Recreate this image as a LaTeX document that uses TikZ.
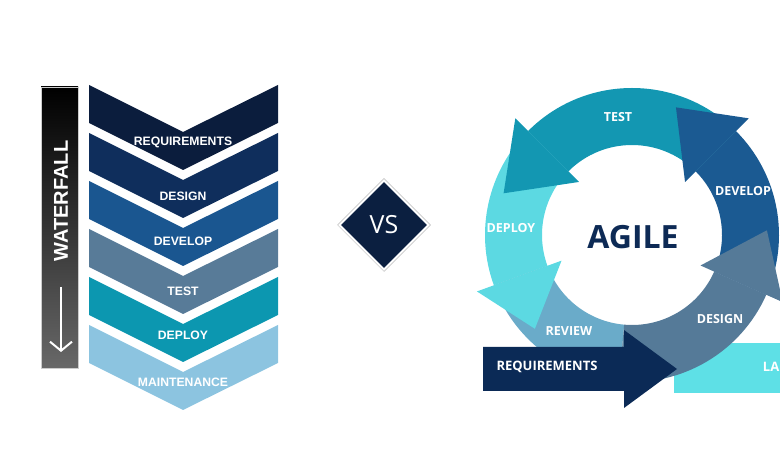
\documentclass[tikz,border=0pt]{standalone}
\usepackage{fontspec}
\setmainfont{Liberation Sans}
\newfontfamily\agilefont{Open Sans}
\usetikzlibrary{shapes.geometric,arrows.meta}
\definecolor{stepone}{HTML}{0B1D3D}
\definecolor{steptwo}{HTML}{0F2E5C}
\definecolor{stepthree}{HTML}{1A5690}
\definecolor{stepfour}{HTML}{587B98}
\definecolor{stepfive}{HTML}{0C97B0}
\definecolor{stepsix}{HTML}{8CC4E0}
\definecolor{wfgrey}{HTML}{686868}
\definecolor{vsnavy}{HTML}{0B1F40}
\definecolor{testcol}{HTML}{1397B2}
\definecolor{developcol}{HTML}{1B5A92}
\definecolor{designcol}{HTML}{557A98}
\definecolor{deploycol}{HTML}{5CD9E2}
\definecolor{reviewcol}{HTML}{6AABC9}
\definecolor{reqcol}{HTML}{0B2A56}
\definecolor{launchcol}{HTML}{5EE0E6}
\definecolor{agilenavy}{HTML}{0D2A55}
\begin{document}
\begin{tikzpicture}[x=1pt,y=1pt,
    wlabel/.style={text=white,font=\bfseries\fontsize{12.2}{12.2}\selectfont},
    alabel/.style={text=white,font=\agilefont\bfseries\fontsize{12.5}{12.5}\selectfont}]
    \clip (0,0) rectangle (780,450);
    % waterfall side
    \shade[top color=black,bottom color=wfgrey,draw=gray!40,line width=0.6] (41,82) rectangle (78,363);
    \node[rotate=90,text=white,font=\bfseries\fontsize{20}{20}\selectfont] (wftitle) at (61,249) {WATERFALL};
    \coordinate (fallstart) at (61,163);
    \coordinate (fallend) at (61,98);
    \draw[white,line width=2,-{Straight Barb[length=9pt,width=22pt]}] (fallstart) -- (fallend);
    \fill[stepone] (89,365) -- ++(94,-47) -- ++(95,47) -- ++(0,-38) -- ++(-95,-47) -- ++(-94,47) -- cycle;
    \fill[steptwo] (89,317) -- ++(94,-47) -- ++(95,47) -- ++(0,-38) -- ++(-95,-47) -- ++(-94,47) -- cycle;
    \fill[stepthree] (89,269) -- ++(94,-47) -- ++(95,47) -- ++(0,-38) -- ++(-95,-47) -- ++(-94,47) -- cycle;
    \fill[stepfour] (89,221) -- ++(94,-47) -- ++(95,47) -- ++(0,-38) -- ++(-95,-47) -- ++(-94,47) -- cycle;
    \fill[stepfive] (89,173) -- ++(94,-47) -- ++(95,47) -- ++(0,-38) -- ++(-95,-47) -- ++(-94,47) -- cycle;
    \fill[stepsix] (89,125) -- ++(94,-47) -- ++(95,47) -- ++(0,-38) -- ++(-95,-47) -- ++(-94,47) -- cycle;
    \node[wlabel] (wfreq) at (183,308) {REQUIREMENTS};
    \node[wlabel] (wfdesign) at (183,254) {DESIGN};
    \node[wlabel] (wfdevelop) at (183,209) {DEVELOP};
    \node[wlabel] (wftest) at (183,159) {TEST};
    \node[wlabel] (wfdeploy) at (183,115) {DEPLOY};
    \node[wlabel] (wfmaint) at (183,68) {MAINTENANCE};
    % versus
    \node[diamond,draw=gray!55,line width=0.5,minimum width=93,minimum height=93] (vsframe) at (384,225) {};
    \node[diamond,fill=vsnavy,minimum width=86,minimum height=86,inner sep=0,text=white,
        font=\agilefont\fontsize{25}{25}\selectfont] (vs) at (vsframe) {VS};
    % agile side
    \fill[launchcol] (674,57) rectangle (790,107);
    \begin{scope}[shift={(632,215)}]
        \fill[reviewcol] (200:147) arc[start angle=200,end angle=265,radius=147] -- (265:90) arc[start angle=265,end angle=200,radius=90] -- cycle;
        \fill[deploycol] (135:147) arc[start angle=135,end angle=200,radius=147] -- (200:90) arc[start angle=200,end angle=135,radius=90] -- cycle;
        \fill[deploycol] (200:75) -- (200:165) -- (224:135) -- cycle;
        \fill[testcol] (45:147) arc[start angle=45,end angle=135,radius=147] -- (135:90) arc[start angle=135,end angle=45,radius=90] -- cycle;
        \fill[testcol] (135:75) -- (135:165) -- (162:135) -- cycle;
        \fill[developcol] (-24:147) arc[start angle=-24,end angle=45,radius=147] -- (45:90) arc[start angle=45,end angle=-24,radius=90] -- cycle;
        \fill[developcol] (45:75) -- (45:165) -- (71:135) -- cycle;
        \fill[designcol] (265:147) arc[start angle=265,end angle=336,radius=147] -- (336:90) arc[start angle=336,end angle=265,radius=90] -- cycle;
        \fill[designcol] (336:75) -- (336:165) -- (362:135) -- cycle;
    \end{scope}
    \fill[reqcol] (483,59) -- (483,103) -- (624,103) -- (624,120) -- (677,81) -- (624,42) -- (624,59) -- cycle;
    \node[text=agilenavy,font=\agilefont\bfseries\fontsize{32}{32}\selectfont] (agile) at (633,213) {AGILE};
    \node[alabel] (agtest) at (618,333) {TEST};
    \node[alabel] (agdevelop) at (743,259) {DEVELOP};
    \node[alabel] (agdeploy) at (511,222) {DEPLOY};
    \node[alabel] (agreview) at (569,119) {REVIEW};
    \node[alabel] (agdesign) at (720,131) {DESIGN};
    \node[alabel,font=\agilefont\bfseries\fontsize{13}{13}\selectfont] (agreq) at (547,83) {REQUIREMENTS};
    \node[alabel,anchor=east,inner sep=0,font=\agilefont\bfseries\fontsize{13}{13}\selectfont] (aglaunch) at (779.5,83) {LA};
\end{tikzpicture}
\end{document}
